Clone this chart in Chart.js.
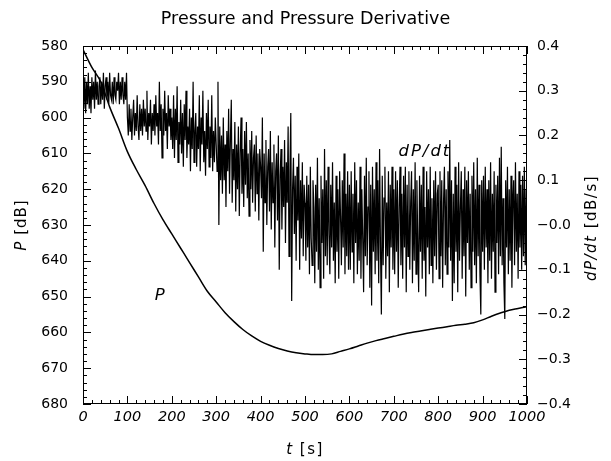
<!DOCTYPE html>
<html>
<head>
<meta charset="utf-8">
<script src="https://cdn.jsdelivr.net/npm/chart.js@4/dist/chart.umd.min.js"></script>
<style>
  html, body { margin: 0; padding: 0; background: #fff; }
  canvas { display: block; }
</style>
</head>
<body>
<canvas id="chart" width="611" height="461"></canvas>
<script>
// Pressure P [dB], sampled every 20 s from t = 0
const pStep = 20;
const pressure = [
  581, 586, 590, 597, 603, 609.5, 614.5, 619, 624, 628.5,
  632.5, 636.5, 640.5, 644.5, 648.5, 651.5, 654.5, 657, 659.2, 661,
  662.5, 663.6, 664.5, 665.2, 665.7, 666, 666.2, 666.2, 666, 665.3,
  664.6, 663.8, 663, 662.3, 661.7, 661.1, 660.5, 660, 659.6, 659.2,
  658.8, 658.4, 658, 657.7, 657.3, 656.5, 655.5, 654.6, 653.8, 653.3,
  652.8
];

// Pressure derivative dP/dt [dB/s], sampled every 2 s from t = 0 (one row of 10 = 20 s)
const dStep = 2;
const dPdt = [
  // 0 - 98 s
  0.30, 0.26, 0.33, 0.25, 0.32, 0.27, 0.34, 0.26, 0.31, 0.25,
  0.33, 0.28, 0.32, 0.26, 0.345, 0.28, 0.32, 0.27, 0.31, 0.33,
  0.27, 0.32, 0.28, 0.34, 0.26, 0.31, 0.33, 0.28, 0.32, 0.27,
  0.34, 0.29, 0.28, 0.32, 0.27, 0.33, 0.29, 0.28, 0.32, 0.30,
  0.34, 0.27, 0.32, 0.28, 0.33, 0.29, 0.27, 0.32, 0.28, 0.34,
  // 100 - 198 s
  0.24, 0.20, 0.27, 0.21, 0.26, 0.19, 0.24, 0.28, 0.20, 0.25,
  0.21, 0.29, 0.22, 0.19, 0.27, 0.21, 0.26, 0.20, 0.28, 0.22,
  0.26, 0.21, 0.30, 0.19, 0.25, 0.22, 0.28, 0.18, 0.25, 0.21,
  0.27, 0.20, 0.29, 0.22, 0.25, 0.18, 0.32, 0.21, 0.27, 0.15,
  0.26, 0.20, 0.30, 0.21, 0.25, 0.17, 0.29, 0.22, 0.26, 0.19,
  // 200 - 298 s
  0.24, 0.17, 0.29, 0.15, 0.26, 0.19, 0.31, 0.14, 0.23, 0.18,
  0.28, 0.16, 0.25, 0.13, 0.27, 0.19, 0.30, 0.15, 0.22, 0.18,
  0.26, 0.12, 0.24, 0.17, 0.32, 0.14, 0.21, 0.25, 0.13, 0.22,
  0.17, 0.29, 0.12, 0.24, 0.18, 0.30, 0.14, 0.21, 0.11, 0.25,
  0.17, 0.28, 0.13, 0.22, 0.15, 0.29, 0.12, 0.21, 0.14, 0.24,
  // 300 - 398 s
  0.18, 0.12, 0.32, 0.00, 0.22, 0.10, 0.20, 0.07, 0.24, 0.10,
  0.18, 0.04, 0.21, 0.12, 0.26, 0.07, 0.19, 0.28, 0.05, 0.17,
  0.10, 0.23, 0.03, 0.18, 0.08, 0.22, 0.02, 0.16, 0.24, 0.07,
  0.17, 0.04, 0.21, 0.09, 0.23, 0.06, 0.16, 0.02, 0.19, 0.08,
  0.21, 0.05, 0.15, 0.18, 0.03, 0.20, 0.07, 0.16, 0.01, 0.17,
  // 400 - 498 s
  0.13, 0.06, 0.24, -0.06, 0.16, 0.05, 0.19, 0.00, 0.13, 0.17,
  0.03, 0.21, -0.01, 0.14, 0.05, 0.18, -0.05, 0.12, 0.16, 0.01,
  0.20, -0.10, 0.11, 0.17, -0.01, 0.13, 0.04, 0.19, -0.04, 0.14,
  0.05, 0.22, -0.07, 0.12, 0.25, -0.17, 0.08, 0.15, -0.02, 0.11,
  -0.08, 0.13, 0.01, 0.16, -0.10, 0.10, -0.03, 0.14, -0.07, 0.09,
  // 500 - 598 s
  0.05, -0.08, 0.11, -0.05, 0.09, -0.11, 0.13, -0.03, -0.09, 0.10,
  0.04, -0.13, 0.09, -0.06, 0.15, -0.10, 0.06, -0.14, 0.11, -0.04,
  0.08, -0.12, 0.17, -0.07, 0.10, -0.09, 0.13, -0.02, -0.11, 0.09,
  -0.05, 0.14, -0.08, 0.05, -0.13, 0.11, -0.06, 0.08, -0.12, 0.12,
  0.02, -0.09, 0.10, -0.05, 0.16, -0.11, 0.07, -0.07, 0.12, -0.10,
  // 600 - 698 s
  0.09, -0.10, 0.12, -0.06, 0.07, -0.13, 0.14, -0.04, 0.10, -0.11,
  0.05, -0.08, 0.13, -0.12, 0.08, -0.03, -0.15, 0.11, -0.07, 0.15,
  -0.09, 0.04, 0.12, -0.14, 0.09, -0.18, 0.13, -0.06, 0.08, -0.11,
  0.14, -0.08, 0.10, -0.13, 0.17, -0.05, -0.20, 0.11, -0.09, 0.06,
  0.13, -0.12, 0.05, -0.07, 0.12, -0.15, 0.09, -0.05, 0.13, -0.10,
  // 700 - 798 s
  0.08, -0.11, 0.12, -0.06, 0.10, -0.14, 0.04, 0.13, -0.09, 0.07,
  -0.12, 0.11, -0.05, 0.13, -0.15, 0.09, -0.07, 0.12, -0.10, 0.05,
  0.12, -0.13, 0.08, -0.08, 0.14, -0.11, 0.10, -0.04, -0.15, 0.11,
  -0.06, 0.09, -0.12, 0.13, -0.08, 0.04, -0.16, 0.12, -0.05, 0.08,
  -0.11, 0.13, -0.09, 0.06, -0.13, 0.10, -0.07, 0.12, -0.10, 0.07,
  // 800 - 898 s
  0.09, -0.12, 0.12, -0.07, 0.10, -0.14, 0.05, 0.13, -0.09, 0.08,
  -0.11, 0.12, -0.05, 0.19, -0.08, 0.10, -0.17, 0.07, -0.13, 0.13,
  -0.06, 0.09, -0.15, 0.14, -0.08, 0.04, 0.12, -0.12, 0.08, -0.07,
  0.13, -0.16, 0.10, -0.04, 0.12, -0.10, 0.07, -0.14, 0.11, -0.06,
  0.14, -0.09, 0.08, -0.13, 0.15, -0.07, 0.09, -0.11, -0.20, 0.10,
  // 900 - 1000 s
  -0.06, 0.11, -0.10, 0.13, -0.05, 0.08, -0.13, 0.10, -0.08, 0.14,
  -0.12, 0.07, -0.06, 0.12, -0.15, 0.09, -0.04, 0.11, -0.11, 0.15,
  -0.07, 0.175, -0.09, 0.06, -0.13, -0.21, 0.10, -0.05, 0.13, -0.11,
  0.08, -0.08, 0.11, -0.14, 0.05, 0.10, -0.09, 0.14, -0.06, 0.07,
  -0.12, 0.12, -0.05, 0.09, -0.10, 0.11, -0.07, 0.13, -0.09, 0.08,
  -0.04
];

const xTickLabels = ['0', '100', '200', '300', '400', '500', '600', '700', '800', '900', '1000'];
const leftTickLabels = ['580', '590', '600', '610', '620', '630', '640', '650', '660', '670', '680'];
const rightTickLabels = ['\u22120.4', '\u22120.3', '\u22120.2', '\u22120.1', '\u22120.0', '0.1', '0.2', '0.3', '0.4'];

const FONT = 'DejaVu Sans';

// draw a string made of parts with different font styles, centred on (x, y)
function drawParts(ctx, parts, x, y, angle, size, spacing) {
    ctx.save();
    ctx.translate(x, y);
    ctx.rotate(angle);
    ctx.fillStyle = '#000';
    ctx.textBaseline = 'middle';
    ctx.textAlign = 'left';
    ctx.letterSpacing = (spacing || 0) + 'px';
    let total = 0;
    parts.forEach(p => {
        ctx.font = p[0] + ' ' + size + 'px "' + FONT + '"';
        total += ctx.measureText(p[1]).width;
    });
    let cx = -total / 2;
    parts.forEach(p => {
        ctx.font = p[0] + ' ' + size + 'px "' + FONT + '"';
        ctx.fillText(p[1], cx, 0);
        cx += ctx.measureText(p[1]).width;
    });
    ctx.restore();
}

// frame, inward ticks, axis titles and curve labels
const framePlugin = {
    id: 'frame',
    afterDraw(chart) {
        const ctx = chart.ctx;
        const a = chart.chartArea;
        const x = chart.scales.x, y = chart.scales.y, y2 = chart.scales.y2;
        ctx.save();
        ctx.strokeStyle = '#000';
        ctx.lineWidth = 1;
        ctx.strokeRect(a.left + 0.5, a.top + 0.5, a.right - a.left - 1, a.bottom - a.top - 1);
        ctx.beginPath();
        for (let v = 0; v <= 1000; v += 20) {
            const px = Math.round(x.getPixelForValue(v)) + 0.5;
            const len = v % 100 === 0 ? 8 : 4;
            ctx.moveTo(px, a.bottom); ctx.lineTo(px, a.bottom - len);
            ctx.moveTo(px, a.top); ctx.lineTo(px, a.top + len);
        }
        for (let v = 580; v <= 680; v += 2) {
            const py = Math.round(y.getPixelForValue(v)) + 0.5;
            const len = v % 10 === 0 ? 8 : 4;
            ctx.moveTo(a.left, py); ctx.lineTo(a.left + len, py);
        }
        for (let i = -20; i <= 20; i++) {
            const py = Math.round(y2.getPixelForValue(i * 0.02)) + 0.5;
            const len = i % 5 === 0 ? 8 : 4;
            ctx.moveTo(a.right, py); ctx.lineTo(a.right - len, py);
        }
        ctx.stroke();
        ctx.restore();

        const midY = (a.top + a.bottom) / 2;
        drawParts(ctx, [['italic', 'P'], ['normal', ' [dB]']], 22, midY, -Math.PI / 2, 15, 1);
        drawParts(ctx, [['italic', 'dP/dt'], ['normal', ' [dB/s]']], 592, midY + 3, -Math.PI / 2, 15, 1.5);
        drawParts(ctx, [['italic', 't'], ['normal', ' [s]']], (a.left + a.right) / 2, 450, 0, 15, 1.5);

        drawParts(ctx, [['italic', 'dP/dt']], x.getPixelForValue(770), y2.getPixelForValue(0.163), 0, 16.5, 2);
        drawParts(ctx, [['italic', 'P']], x.getPixelForValue(173), y.getPixelForValue(649.8), 0, 16.5, 0);
    }
};

const tickFont = { family: FONT, size: 14 };

new Chart(document.getElementById('chart'), {
    type: 'line',
    data: {
        datasets: [{
            label: 'P',
            data: pressure.map((v, i) => ({ x: i * pStep, y: v })),
            yAxisID: 'y',
            borderColor: '#000',
            borderWidth: 1.5,
            pointRadius: 0,
            cubicInterpolationMode: 'monotone'
        }, {
            label: 'dP/dt',
            data: dPdt.map((v, i) => ({ x: i * dStep, y: v })),
            yAxisID: 'y2',
            borderColor: '#000',
            borderWidth: 1.2,
            pointRadius: 0,
            tension: 0
        }]
    },
    options: {
        responsive: false,
        devicePixelRatio: 1,
        animation: false,
        layout: { padding: 0 },
        plugins: {
            legend: { display: false },
            tooltip: { enabled: false },
            title: {
                display: true,
                text: 'Pressure and Pressure Derivative',
                color: '#000',
                font: { family: FONT, size: 17.5, weight: 'normal' },
                padding: { top: 9, bottom: 16 }
            }
        },
        scales: {
            x: {
                type: 'linear',
                min: 0,
                max: 1000,
                grid: { display: false, drawTicks: false },
                border: { display: false },
                ticks: {
                    stepSize: 100,
                    padding: 5,
                    color: '#000',
                    maxRotation: 0,
                    font: { ...tickFont, size: 14.5, style: 'italic' },
                    callback: v => xTickLabels[Math.round(v / 100)]
                },
                afterFit: s => { s.height = 57; }
            },
            y: {
                position: 'left',
                reverse: true,
                min: 580,
                max: 680,
                grid: { display: false, drawTicks: false },
                border: { display: false },
                ticks: {
                    stepSize: 10,
                    padding: 15,
                    color: '#000',
                    font: tickFont,
                    callback: v => leftTickLabels[Math.round((v - 580) / 10)]
                },
                afterFit: s => { s.width = 83; }
            },
            y2: {
                position: 'right',
                min: -0.4,
                max: 0.4,
                grid: { display: false, drawTicks: false },
                border: { display: false },
                ticks: {
                    stepSize: 0.1,
                    padding: 10,
                    color: '#000',
                    font: tickFont,
                    callback: v => rightTickLabels[Math.round((v + 0.4) * 10)]
                },
                afterFit: s => { s.width = 84; }
            }
        }
    },
    plugins: [framePlugin]
});
</script>
</body>
</html>
